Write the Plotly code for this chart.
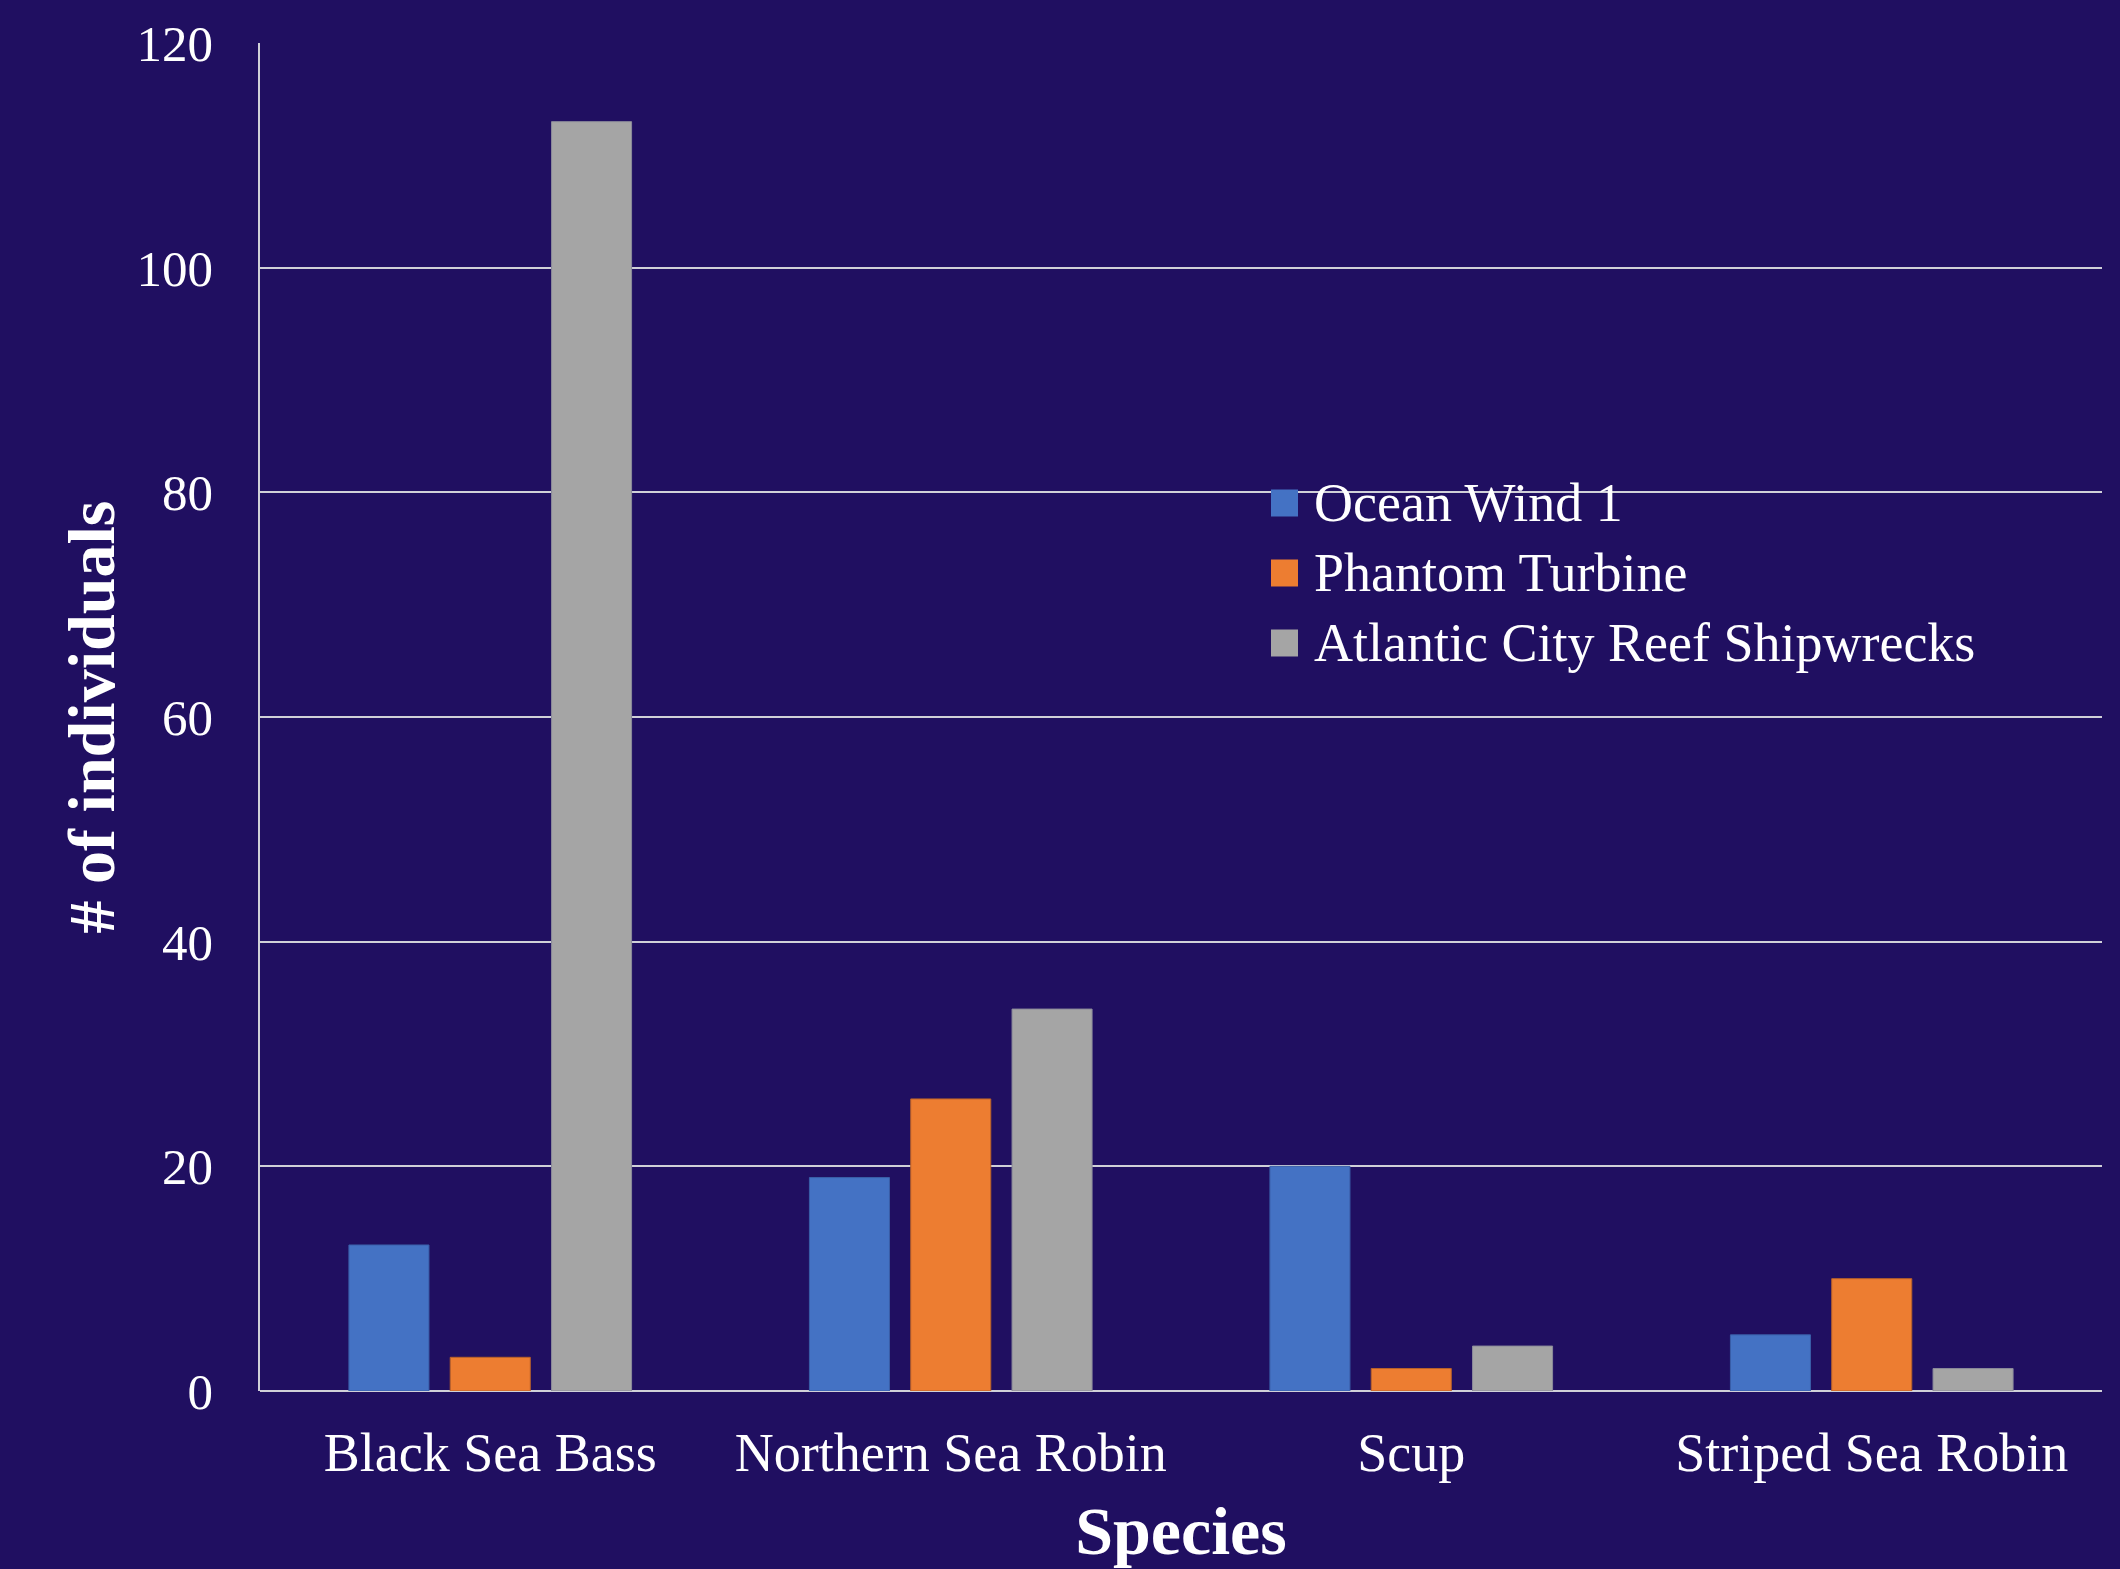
import plotly.graph_objects as go

# Survey counts per species at each site
species = ["Black Sea Bass", "Northern Sea Robin", "Scup", "Striped Sea Robin"]
ocean_wind_1 = [13, 19, 20, 5]
phantom_turbine = [3, 26, 2, 10]
atlantic_city_reef = [113, 34, 4, 2]

series_names = ["Ocean Wind 1", "Phantom Turbine", "Atlantic City Reef Shipwrecks"]
series_values = [ocean_wind_1, phantom_turbine, atlantic_city_reef]
series_colors = ["#4472C4", "#ED7D31", "#A5A5A5"]
edge_colors = ["#3A5FA8", "#B8612A", "#8A8A9A"]

y_ticks = [0, 20, 40, 60, 80, 100, 120]

BG = "#200F61"
GRID = "#D0D0D8"
FONT = "Liberation Serif"

W, H = 2120, 1569
M_L, M_R, M_T, M_B = 260, 18, 43, 178
PLOT_W = W - M_L - M_R
PLOT_H = H - M_T - M_B


def px_to_paper(x_px, y_px):
    return (x_px - M_L) / PLOT_W, (H - M_B - y_px) / PLOT_H


fig = go.Figure()

for name, vals, col, edge in zip(series_names, series_values, series_colors, edge_colors):
    fig.add_trace(go.Bar(
        x=species, y=vals, name=name,
        marker=dict(color=col, line=dict(color=edge, width=1)),
        showlegend=False,
    ))

# Legend drawn as large square keys with labels inside the plot area
LEG_LEFT, LEG_TOP_ROW, LEG_ROW_H, KEY = 1271, 503, 70, 27
TEXT_GAP = 14
shapes = []
annotations = []
for i, (name, col) in enumerate(zip(series_names, series_colors)):
    cy = LEG_TOP_ROW + i * LEG_ROW_H
    x0, y0 = px_to_paper(LEG_LEFT, cy + KEY / 2)
    x1, y1 = px_to_paper(LEG_LEFT + KEY, cy - KEY / 2)
    shapes.append(dict(type="rect", xref="paper", yref="paper",
                       x0=x0, y0=y0, x1=x1, y1=y1,
                       fillcolor=col, line=dict(width=0)))
    tx, ty = px_to_paper(LEG_LEFT + KEY + TEXT_GAP, cy)
    annotations.append(dict(text=name, xref="paper", yref="paper",
                            x=tx, y=ty, xanchor="left", yanchor="middle",
                            showarrow=False,
                            font=dict(family=FONT, size=54, color="white")))

fig.update_layout(
    width=W, height=H,
    paper_bgcolor=BG, plot_bgcolor=BG,
    margin=dict(l=M_L, r=M_R, t=M_T, b=M_B),
    barmode="group",
    bargap=0.34, bargroupgap=0.21,
    font=dict(family=FONT, color="white", size=50),
    showlegend=False,
    shapes=shapes,
    annotations=annotations,
    xaxis=dict(
        automargin=False,
        showgrid=False, zeroline=False, showline=False,
        tickfont=dict(family=FONT, size=54, color="white"),
        ticklabelstandoff=25,
        title=dict(text="<b>Species</b>", font=dict(family=FONT, size=68, color="white"), standoff=24),
    ),
    yaxis=dict(
        automargin=False,
        range=[0, 120], tickvals=y_ticks, ticktext=[str(v) for v in y_ticks],
        showgrid=True, gridcolor=GRID, gridwidth=1.5,
        zeroline=True, zerolinecolor=GRID, zerolinewidth=2,
        showline=True, linecolor=GRID, linewidth=1.5,
        ticks="", ticklabelstandoff=35,
        tickfont=dict(family=FONT, size=51, color="white"),
        title=dict(text="<b># of individuals</b>", font=dict(family=FONT, size=66, color="white"), standoff=0),
    ),
)

fig.write_html("out.html")
